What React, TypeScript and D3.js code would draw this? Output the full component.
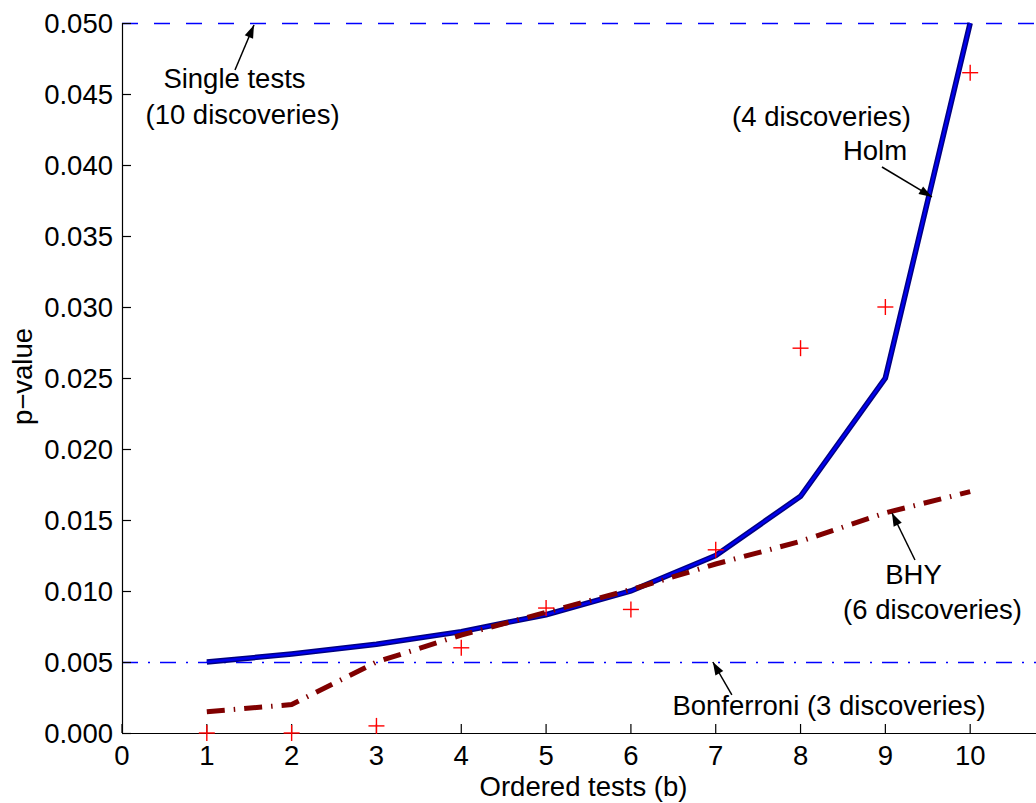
import React from "react";
import * as d3 from "d3";

const tests = [1, 2, 3, 4, 5, 6, 7, 8, 9, 10];
const holm = [0.005, 0.00556, 0.00625, 0.00714, 0.00833, 0.01, 0.0125, 0.01667, 0.025, 0.05];
const bhy = [0.0015, 0.002, 0.005, 0.0069, 0.0085, 0.0101, 0.0119, 0.0135, 0.0155, 0.017];
const pvalues = [0.0, 0.0, 0.0005, 0.006, 0.0088, 0.0087, 0.0129, 0.0271, 0.03, 0.0465];
const singleThreshold = 0.05;
const bonferroniThreshold = 0.005;
const xTicks = [0, 1, 2, 3, 4, 5, 6, 7, 8, 9, 10];
const yTicks = [0, 0.005, 0.01, 0.015, 0.02, 0.025, 0.03, 0.035, 0.04, 0.045, 0.05];

type Ann = { lines: { text: string; x: number; y: number }[]; tail: [number, number]; tip: [number, number] };
const annotations: Ann[] = [
  {
    lines: [
      { text: "Single tests", x: 1.326, y: 0.04542 },
      { text: "(10 discoveries)", x: 1.421, y: 0.04289 },
    ],
    tail: [1.332, 0.04669],
    tip: [1.556, 0.04986],
  },
  {
    lines: [
      { text: "(4 discoveries)", x: 8.247, y: 0.04275 },
      { text: "Holm", x: 8.878, y: 0.04035 },
    ],
    tail: [8.96, 0.03986],
    tip: [9.549, 0.03775],
  },
  {
    lines: [
      { text: "BHY", x: 9.332, y: 0.01049 },
      { text: "(6 discoveries)", x: 9.556, y: 0.00803 },
    ],
    tail: [9.349, 0.01218],
    tip: [9.078, 0.01549],
  },
  {
    lines: [{ text: "Bonferroni (3 discoveries)", x: 8.336, y: 0.00127 }],
    tail: [7.19, 0.00268],
    tip: [6.966, 0.005],
  },
];

const W = 1036;
const H = 803;
const FONT = "'Liberation Sans', Arial, Helvetica, sans-serif";
const FS = 27.5;

export default function App() {
  const x = d3.scaleLinear().domain([0, 11]).range([122, 1055]);
  const y = d3.scaleLinear().domain([0, 0.05]).range([733, 23]);
  const x0 = x(0);
  const y0 = y(0);

  const holmLine = d3
    .line<number>()
    .x((_, i) => x(tests[i]))
    .y((d) => y(d))(holm) as string;
  const bhyLine = d3
    .line<number>()
    .x((_, i) => x(tests[i]))
    .y((d) => y(d))(bhy) as string;

  const arrowHead = (a: Ann) => {
    const [tx, ty] = [x(a.tip[0]), y(a.tip[1])];
    const [sx, sy] = [x(a.tail[0]), y(a.tail[1])];
    const ang = Math.atan2(ty - sy, tx - sx);
    const len = 13;
    const half = 4.5;
    const bx = tx - len * Math.cos(ang);
    const by = ty - len * Math.sin(ang);
    const px = -Math.sin(ang) * half;
    const py = Math.cos(ang) * half;
    return `M${tx},${ty}L${bx + px},${by + py}L${bx - px},${by - py}Z`;
  };

  return (
    <svg
      width={W}
      height={H}
      style={{ position: "absolute", left: 0, top: 0, background: "#fff" }}
      fontFamily={FONT}
    >
      <rect x={0} y={0} width={W} height={H} fill="#fff" />

      {/* threshold lines */}
      <line
        x1={x0}
        x2={W}
        y1={y(singleThreshold) + 0.5}
        y2={y(singleThreshold) + 0.5}
        stroke="#0000ff"
        strokeWidth={1.3}
        strokeDasharray="16,16"
      />
      <line
        x1={x0}
        x2={W}
        y1={y(bonferroniThreshold) + 0.5}
        y2={y(bonferroniThreshold) + 0.5}
        stroke="#0000ff"
        strokeWidth={1.3}
        strokeDasharray="16,10,2,10"
      />

      {/* Holm line */}
      <path d={holmLine} fill="none" stroke="#000080" strokeWidth={5.5} strokeLinejoin="miter" />
      <path d={holmLine} fill="none" stroke="#0000ee" strokeWidth={2.5} strokeLinejoin="miter" />

      {/* BHY line */}
      <path
        d={bhyLine}
        fill="none"
        stroke="#800000"
        strokeWidth={5}
        strokeDasharray="18,9,1.5,9"
      />

      {/* axes */}
      <line x1={x0} x2={W} y1={y0 + 0.5} y2={y0 + 0.5} stroke="#000" strokeWidth={1.2} />
      <line x1={x0 + 0.5} x2={x0 + 0.5} y1={y0} y2={y(0.05)} stroke="#000" strokeWidth={1.2} />
      {xTicks.map((t) => (
        <g key={"xt" + t}>
          <line x1={x(t)} x2={x(t)} y1={y0} y2={y0 - 9} stroke="#000" strokeWidth={1.2} />
          <text x={x(t)} y={765} textAnchor="middle" fontSize={FS} fill="#000">
            {t}
          </text>
        </g>
      ))}
      {yTicks.map((t) => (
        <g key={"yt" + t}>
          <line x1={x0} x2={x0 + 9} y1={y(t) + 0.5} y2={y(t) + 0.5} stroke="#000" strokeWidth={1.2} />
          <text x={113} y={y(t)} dy="0.36em" textAnchor="end" fontSize={FS} fill="#000">
            {d3.format(".3f")(t)}
          </text>
        </g>
      ))}
      <text x={583.5} y={796} textAnchor="middle" fontSize={FS} fill="#000">
        Ordered tests (b)
      </text>
      <text
        transform={`translate(32,376.5) rotate(-90)`}
        textAnchor="middle"
        fontSize={FS}
        fill="#000"
      >
        p−value
      </text>

      {/* annotations */}
      {annotations.map((a, i) => (
        <g key={"a" + i}>
          {a.lines.map((l, j) => (
            <text key={j} x={x(l.x)} y={y(l.y)} textAnchor="middle" fontSize={FS} fill="#000">
              {l.text}
            </text>
          ))}
          <line
            x1={x(a.tail[0])}
            y1={y(a.tail[1])}
            x2={x(a.tip[0])}
            y2={y(a.tip[1])}
            stroke="#000"
            strokeWidth={1.5}
          />
          <path d={arrowHead(a)} fill="#000" />
        </g>
      ))}

      {/* p-value markers */}
      {pvalues.map((p, i) => {
        const cx = x(tests[i]);
        const cy = y(p);
        return (
          <g key={"p" + i} stroke="#ff0000" strokeWidth={1.4}>
            <line x1={cx - 8} x2={cx + 8} y1={cy} y2={cy} />
            <line x1={cx} x2={cx} y1={cy - 8} y2={cy + 8} />
          </g>
        );
      })}
    </svg>
  );
}
